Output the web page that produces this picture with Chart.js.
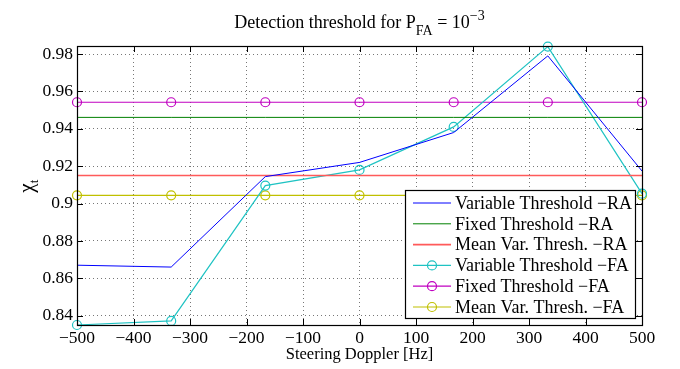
<!DOCTYPE html>
<html>
<head>
<meta charset="utf-8">
<script src="https://cdn.jsdelivr.net/npm/chart.js@4"></script>
<style>
  html, body { margin: 0; padding: 0; background: #fff; }
  #wrap { width: 680px; height: 369px; position: relative; }
</style>
</head>
<body>
<div id="wrap"><canvas id="thresholdChart"></canvas></div>
<script>
// steering doppler bins and axis ticks
const doppler = [-500, -333.3, -166.7, 0, 166.7, 333.3, 500];
const xTicks = [-500, -400, -300, -200, -100, 0, 100, 200, 300, 400, 500];
const yTicks = [0.84, 0.86, 0.88, 0.9, 0.92, 0.94, 0.96, 0.98];

// thresholds, RA
const varRA = [0.867, 0.866, 0.9144, 0.922, 0.938, 0.979, 0.9174];
const fixedRA = [0.9461, 0.9461, 0.9461, 0.9461, 0.9461, 0.9461, 0.9461];
const meanRA = [0.915, 0.915, 0.915, 0.915, 0.915, 0.915, 0.915];

// thresholds, FA
const varFA = [0.835, 0.8372, 0.9096, 0.918, 0.941, 0.984, 0.9053];
const fixedFA = [0.9542, 0.9542, 0.9542, 0.9542, 0.9542, 0.9542, 0.9542];
const meanFA = [0.9044, 0.9044, 0.9044, 0.9044, 0.9044, 0.9044, 0.9044];

const seriesNames = [
  'Variable Threshold \u2212RA', 'Fixed Threshold \u2212RA', 'Mean Var. Thresh. \u2212RA',
  'Variable Threshold \u2212FA', 'Fixed Threshold \u2212FA', 'Mean Var. Thresh. \u2212FA'
];

const SERIF = '"Liberation Serif", "Times New Roman", serif';

function pts(ys) {
  return doppler.map((x, i) => ({ x: x, y: ys[i] }));
}

function ds(i, ys, color, marker, width) {
  return {
    label: seriesNames[i],
    data: pts(ys),
    borderColor: color,
    borderWidth: width,
    pointRadius: marker ? 4.5 : 0,
    pointBorderWidth: 1.2,
    pointBorderColor: color,
    pointBackgroundColor: 'rgba(0,0,0,0)',
    pointHoverRadius: marker ? 4.5 : 0,
    tension: 0,
    clip: false
  };
}

// MATLAB-like box, inward ticks, title, y label and legend
const decor = {
  id: 'decor',
  afterDraw(chart) {
    const c = chart.ctx;
    const a = chart.chartArea;
    const xs = chart.scales.x, ys = chart.scales.y;
    c.save();
    c.strokeStyle = '#000';
    c.lineWidth = 1;
    c.beginPath();
    xTicks.forEach(v => {
      const p = Math.round(xs.getPixelForValue(v)) + 0.5;
      c.moveTo(p, a.bottom); c.lineTo(p, a.bottom - 6);
      c.moveTo(p, a.top); c.lineTo(p, a.top + 6);
    });
    yTicks.forEach(v => {
      const p = Math.round(ys.getPixelForValue(v)) + 0.5;
      c.moveTo(a.left, p); c.lineTo(a.left + 6, p);
      c.moveTo(a.right, p); c.lineTo(a.right - 6, p);
    });
    c.stroke();
    c.lineWidth = 1.2;
    c.strokeRect(Math.round(a.left) + 0.5, Math.round(a.top) + 0.5,
      Math.round(a.right - a.left), Math.round(a.bottom - a.top));

    // title with subscript and superscript
    c.fillStyle = '#000';
    c.textBaseline = 'alphabetic';
    const big = '18px ' + SERIF, small = '14px ' + SERIF;
    const parts = [
      ['Detection threshold for P', big, 0],
      ['FA', small, 7],
      [' = 10', big, 0],
      ['\u22123', small, -8]
    ];
    let tw = 0;
    parts.forEach(p => { c.font = p[1]; tw += c.measureText(p[0]).width; });
    let tx = (a.left + a.right) / 2 - tw / 2;
    parts.forEach(p => {
      c.font = p[1];
      c.textAlign = 'left';
      c.fillText(p[0], tx, 28 + p[2]);
      tx += c.measureText(p[0]).width;
    });

    // y axis label chi_t
    c.save();
    c.translate(33, (a.top + a.bottom) / 2);
    c.rotate(-Math.PI / 2);
    c.font = '21px ' + SERIF;
    c.textAlign = 'left';
    const cw = c.measureText('\u03c7').width;
    c.fillText('\u03c7', -(cw + 5) / 2, 0);
    c.font = '13px ' + SERIF;
    c.fillText('t', -(cw + 5) / 2 + cw, 5);
    c.restore();

    // legend
    const lx = 405, ly = 190, lw = 230, lh = 128;
    c.fillStyle = '#fff';
    c.fillRect(lx, ly, lw, lh);
    c.lineWidth = 1.2;
    c.strokeStyle = '#000';
    c.strokeRect(lx + 0.5, ly + 0.5, lw, lh);
    c.font = '18px ' + SERIF;
    c.textBaseline = 'middle';
    chart.data.datasets.forEach((d, i) => {
      const y = ly + 13 + i * 20.8;
      c.strokeStyle = d.borderColor;
      c.lineWidth = d.borderWidth;
      c.beginPath();
      c.moveTo(lx + 8, y); c.lineTo(lx + 46, y);
      c.stroke();
      if (d.pointRadius > 0) {
        c.lineWidth = 1.2;
        c.beginPath();
        c.arc(lx + 27, y, 4.5, 0, Math.PI * 2);
        c.stroke();
      }
      c.fillStyle = '#000';
      c.fillText(d.label, lx + 50, y + 1);
    });
    c.restore();
  }
};

new Chart(document.getElementById('thresholdChart'), {
  type: 'line',
  data: {
    datasets: [
      ds(0, varRA, '#0000ff', false, 1),
      ds(1, fixedRA, '#008000', false, 1),
      ds(2, meanRA, '#ff5a5a', false, 1.6),
      ds(3, varFA, '#1fc3c3', true, 1.2),
      ds(4, fixedFA, '#c000c0', true, 1.2),
      ds(5, meanFA, '#c0c000', true, 1.2)
    ]
  },
  options: {
    responsive: true,
    maintainAspectRatio: false,
    animation: false,
    events: [],
    layout: { padding: { top: 46, right: 38, left: 0, bottom: 0 } },
    plugins: { legend: { display: false }, tooltip: { enabled: false }, title: { display: false } },
    scales: {
      x: {
        type: 'linear',
        min: -500, max: 500,
        afterBuildTicks: axis => { axis.ticks = xTicks.map(v => ({ value: v })); },
        afterFit: axis => { axis.height = 44; },
        title: {
          display: true,
          text: 'Steering Doppler [Hz]',
          color: '#000',
          font: { family: SERIF, size: 16.5 },
          padding: { top: 0, bottom: 4 }
        },
        ticks: {
          color: '#000',
          font: { family: SERIF, size: 17.5 },
          padding: 3,
          maxRotation: 0,
          autoSkip: false,
          callback: v => (v < 0 ? '\u2212' + Math.abs(v) : String(v))
        },
        grid: { color: '#777', lineWidth: 1, drawTicks: false },
        border: { display: false, dash: [1, 3] }
      },
      y: {
        min: 0.835, max: 0.9843,
        afterBuildTicks: axis => { axis.ticks = yTicks.map(v => ({ value: v })); },
        afterFit: axis => { axis.width = 77; },
        ticks: {
          color: '#000',
          font: { family: SERIF, size: 17.5 },
          padding: 4,
          autoSkip: false,
          callback: v => String(Math.round(v * 100) / 100)
        },
        grid: { color: '#777', lineWidth: 1, drawTicks: false },
        border: { display: false, dash: [1, 3] }
      }
    }
  },
  plugins: [decor]
});
</script>
</body>
</html>
